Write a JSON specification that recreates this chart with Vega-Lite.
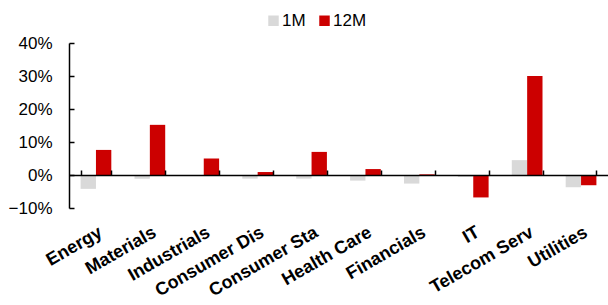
{
  "$schema": "https://vega.github.io/schema/vega-lite/v6.json",
  "width": 539,
  "height": 165,
  "autosize": {"type": "none"},
  "padding": {"left": 69, "top": 43, "right": 0, "bottom": 97},
  "data": {
    "values": [
      {"sector": "Energy", "series": "1M", "value": -0.042},
      {"sector": "Energy", "series": "12M", "value": 0.076},
      {"sector": "Materials", "series": "1M", "value": -0.011},
      {"sector": "Materials", "series": "12M", "value": 0.152},
      {"sector": "Industrials", "series": "1M", "value": -0.002},
      {"sector": "Industrials", "series": "12M", "value": 0.050},
      {"sector": "Consumer Dis", "series": "1M", "value": -0.011},
      {"sector": "Consumer Dis", "series": "12M", "value": 0.009},
      {"sector": "Consumer Sta", "series": "1M", "value": -0.011},
      {"sector": "Consumer Sta", "series": "12M", "value": 0.070},
      {"sector": "Health Care", "series": "1M", "value": -0.017},
      {"sector": "Health Care", "series": "12M", "value": 0.018},
      {"sector": "Financials", "series": "1M", "value": -0.026},
      {"sector": "Financials", "series": "12M", "value": 0.002},
      {"sector": "IT", "series": "1M", "value": -0.006},
      {"sector": "IT", "series": "12M", "value": -0.068},
      {"sector": "Telecom Serv", "series": "1M", "value": 0.045},
      {"sector": "Telecom Serv", "series": "12M", "value": 0.300},
      {"sector": "Utilities", "series": "1M", "value": -0.037},
      {"sector": "Utilities", "series": "12M", "value": -0.031}
    ]
  },
  "mark": {"type": "bar"},
  "encoding": {
    "x": {
      "field": "sector",
      "type": "nominal",
      "sort": null,
      "scale": {"paddingInner": 0.43, "paddingOuter": 0.215},
      "axis": {
        "orient": "bottom",
        "offset": -33,
        "title": null,
        "tickBand": "extent",
        "tickSize": -5,
        "tickWidth": 1.5,
        "domainWidth": 1.5,
        "zindex": 1,
        "labelPadding": 53,
        "labelAngle": -30,
        "labelAlign": "right",
        "labelBaseline": "top",
        "labelFontSize": 18,
        "labelFontWeight": "bold",
        "labelOverlap": false,
        "labelBound": false
      }
    },
    "xOffset": {"field": "series", "type": "nominal", "sort": ["1M", "12M"], "scale": {"paddingInner": 0, "paddingOuter": 0}},
    "y": {
      "field": "value",
      "type": "quantitative",
      "scale": {"domain": [-0.1, 0.4], "nice": false},
      "axis": {
        "values": [-0.1, 0, 0.1, 0.2, 0.3, 0.4],
        "format": ".0%",
        "title": null,
        "tickSize": -5,
        "tickWidth": 1.5,
        "domainWidth": 1.5,
        "labelPadding": 22,
        "labelFontSize": 17
      }
    },
    "color": {
      "field": "series",
      "type": "nominal",
      "sort": ["1M", "12M"],
      "scale": {"domain": ["1M", "12M"], "range": ["#d9d9d9", "#cc0000"]},
      "legend": {
        "orient": "none",
        "legendX": 196,
        "legendY": -31,
        "direction": "horizontal",
        "title": null,
        "padding": 0,
        "symbolType": "square",
        "symbolSize": 110,
        "symbolStrokeWidth": 0,
        "labelFontSize": 17,
        "labelColor": "black",
        "labelFont": "Liberation Sans",
        "columnPadding": 10,
        "labelOffset": 0
      }
    }
  },
  "config": {
    "view": {"stroke": null},
    "axis": {
      "grid": false,
      "domainColor": "black",
      "tickColor": "black",
      "labelColor": "black",
      "labelFont": "Liberation Sans"
    }
  }
}
